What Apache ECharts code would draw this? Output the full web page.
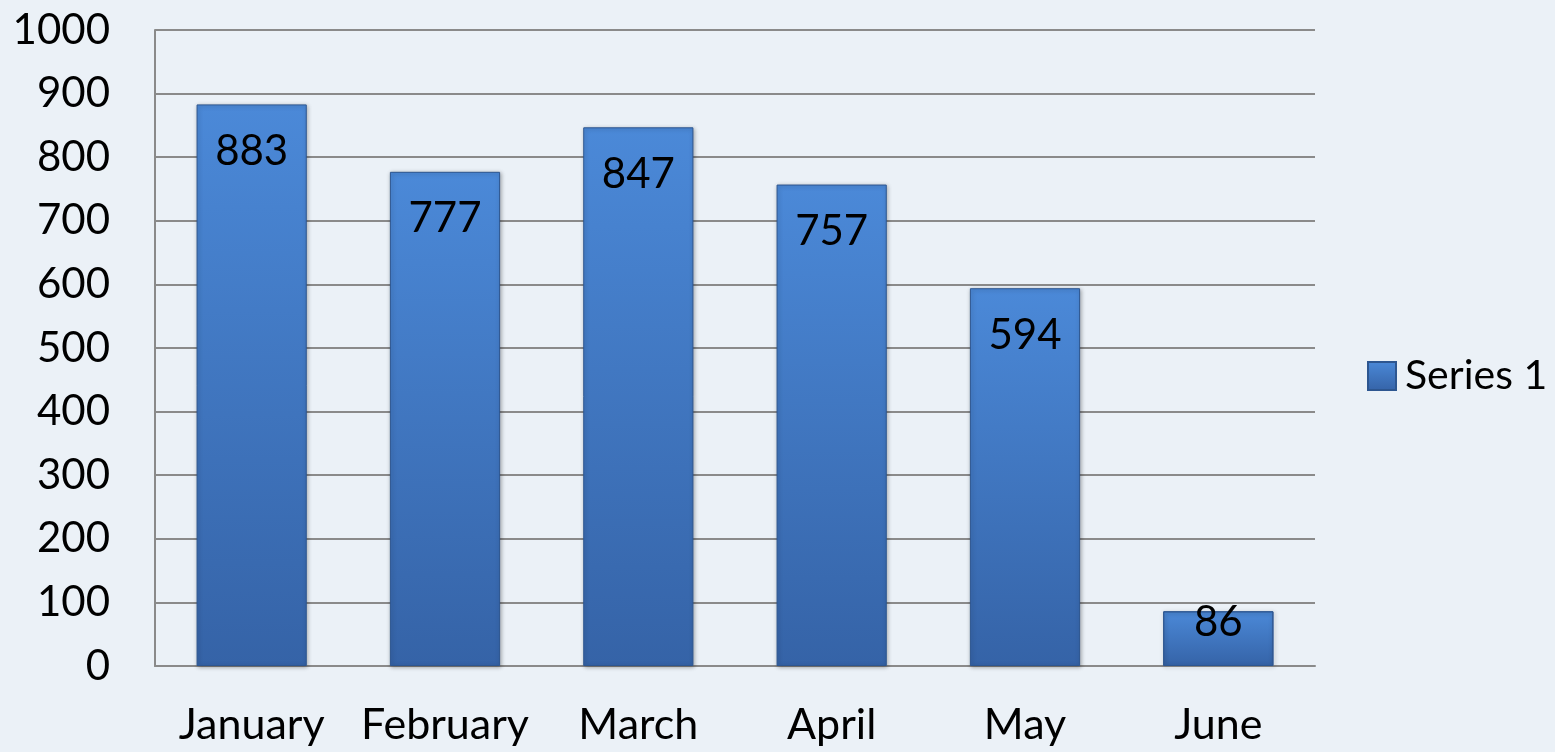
<!DOCTYPE html>
<html>
<head>
<meta charset="utf-8">
<script src="https://cdn.jsdelivr.net/npm/echarts@6/dist/echarts.min.js"></script>
<style>
  html, body { margin: 0; padding: 0; }
  #chart { width: 1555px; height: 752px; background: #ebf1f7; }
</style>
</head>
<body>
<div id="chart"></div>
<script>
var months = ['January', 'February', 'March', 'April', 'May', 'June'];
var series1 = [883, 777, 847, 757, 594, 86];
var seriesName = 'Series 1';

var font = 'Lato';
var chart = echarts.init(document.getElementById('chart'));

var barColor = new echarts.graphic.LinearGradient(0, 0, 0, 1, [
    { offset: 0, color: '#4b89d8' },
    { offset: 1, color: '#3563a7' }
]);

var option = {
    backgroundColor: '#ebf1f7',
    textStyle: { fontFamily: font },
    legend: {
        data: [seriesName],
        orient: 'vertical',
        left: 1362,
        top: 'middle',
        itemWidth: 28,
        itemHeight: 28,
        icon: 'rect',
        textStyle: { fontFamily: font, fontSize: 41, color: '#000', padding: [0, 0, 0, 4] }
    },
    grid: {
        left: 155,
        right: 240,
        top: 30,
        bottom: 86
    },
    xAxis: {
        type: 'category',
        data: months,
        axisTick: { show: false },
        axisLine: { lineStyle: { color: '#8a8a8a', width: 2 } },
        axisLabel: { interval: 0, fontFamily: font, fontSize: 43, color: '#000', margin: 38 }
    },
    yAxis: {
        type: 'value',
        min: 0,
        max: 1000,
        interval: 100,
        axisLine: { show: true, lineStyle: { color: '#8a8a8a', width: 2 } },
        axisTick: { show: false },
        splitLine: { lineStyle: { color: '#8a8a8a', width: 2 } },
        axisLabel: {
            fontFamily: font, fontSize: 42, color: '#000', margin: 45,
            formatter: function(v) { return String(v); }
        }
    },
    series: [{
        name: seriesName,
        type: 'bar',
        data: series1,
        barCategoryGap: '43%',
        itemStyle: {
            color: barColor,
            borderColor: '#2d5690',
            borderWidth: 1,
            shadowColor: 'rgba(0,0,0,0.3)',
            shadowBlur: 4,
            shadowOffsetX: 1,
            shadowOffsetY: 1
        },
        label: {
            show: true,
            position: 'insideTop',
            distance: 26,
            fontFamily: font,
            fontSize: 42,
            color: '#000'
        },
        // short bars: pull the label up so it starts at the bar top
        labelLayout: function(params)
        {
            var r = params.rect;
            var l = params.labelRect;
            if(l.y + l.height > r.y + r.height)
            {
                return { x: r.x + r.width / 2, y: r.y - 10, align: 'center', verticalAlign: 'top' };
            }
            return {};
        }
    }]
};

option && chart.setOption(option);
</script>
</body>
</html>
